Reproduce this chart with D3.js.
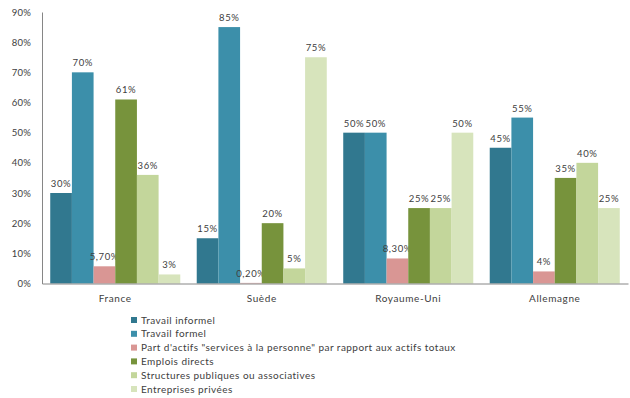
<!DOCTYPE html>
<html><head><meta charset="utf-8">
<script src="https://cdn.jsdelivr.net/npm/d3@7"></script>
<style>body{margin:0;background:#fff}svg{display:block}text{font-family:Lato,"Open Sans",sans-serif;fill:#404040}</style>
</head><body><svg id="c" width="630" height="398"></svg>
<script>
const categories = ["France", "Suède", "Royaume-Uni", "Allemagne"];
const seriesNames = ["Travail informel", "Travail formel", "Part d'actifs \"services à la personne\" par rapport aux actifs totaux", "Emplois directs", "Structures publiques ou associatives", "Entreprises privées"];
const travailInformel = [30, 15, 50, 45];
const travailFormel = [70, 85, 50, 55];
const partActifs = [5.7, 0.2, 8.3, 4];
const emploisDirects = [61, 20, 25, 35];
const structuresPubliques = [36, 5, 25, 40];
const entreprisesPrivees = [3, 75, 50, 25];
const labelsInformel = ["30%", "15%", "50%", "45%"];
const labelsFormel = ["70%", "85%", "50%", "55%"];
const labelsPart = ["5,70%", "0,20%", "8,30%", "4%"];
const labelsEmplois = ["61%", "20%", "25%", "35%"];
const labelsStructures = ["36%", "5%", "25%", "40%"];
const labelsEntreprises = ["3%", "75%", "50%", "25%"];
const yTicks = [0, 10, 20, 30, 40, 50, 60, 70, 80, 90];
const colors = ["#31788F", "#3C8FAA", "#D99694", "#77933C", "#C3D69B", "#D7E4BC"];

(function () {
const series = [travailInformel, travailFormel, partActifs, emploisDirects, structuresPubliques, entreprisesPrivees];
const labels = [labelsInformel, labelsFormel, labelsPart, labelsEmplois, labelsStructures, labelsEntreprises];

const svg = d3.select("#c");
const mLeft = 42, mRight = 628, mTop = 12, mBottom = 283.5;
const x0 = d3.scaleBand().domain(categories).range([mLeft, mRight]).paddingInner(0).paddingOuter(0);
const x1 = d3.scaleBand().domain(d3.range(series.length)).range([0, x0.bandwidth()]).paddingOuter(0.38).paddingInner(0);
const y = d3.scaleLinear().domain([0, 90]).range([mBottom, mTop]);

const g = svg.append("g");
categories.forEach((c, ci) => {
  series.forEach((s, si) => {
    const bx = x0(c) + x1(si);
    g.append("rect").attr("x", bx).attr("y", y(s[ci])).attr("width", x1.bandwidth()).attr("height", y(0) - y(s[ci])).attr("fill", colors[si]);
    g.append("text").attr("x", bx + x1.bandwidth() / 2).attr("y", y(s[ci]) - 6)
      .attr("text-anchor", "middle").attr("font-size", "9.5px").attr("letter-spacing", "0.6px").text(labels[si][ci]);
  });
});

const ya = svg.append("g").attr("transform", `translate(${mLeft},0)`)
  .call(d3.axisLeft(y).tickValues(yTicks).tickFormat(d => d + "%").tickSize(0).tickPadding(11));
ya.select(".domain").attr("stroke", "#868686");
ya.selectAll("text").attr("font-size", "9.5px").attr("fill", "#404040").attr("letter-spacing", "0.2px").style("font-family", "Lato, 'Open Sans', sans-serif");

const xa = svg.append("g").attr("transform", `translate(0,${mBottom})`)
  .call(d3.axisBottom(x0).tickSize(0).tickPadding(11));
xa.select(".domain").attr("stroke", "#868686");
xa.selectAll("text").attr("font-size", "10px").attr("fill", "#404040").attr("letter-spacing", "0.6px").style("font-family", "Lato, 'Open Sans', sans-serif");

const lg = svg.append("g").attr("transform", "translate(131,320)");
seriesNames.forEach((n, i) => {
  const row = lg.append("g").attr("transform", `translate(0,${i * 13.8})`);
  row.append("rect").attr("x", 0).attr("y", -3).attr("width", 6).attr("height", 6).attr("fill", colors[i]);
  row.append("text").attr("x", 10).attr("y", 3.5).attr("font-size", "10px").attr("letter-spacing", "0.45px").text(n);
});
})();
</script></body></html>
